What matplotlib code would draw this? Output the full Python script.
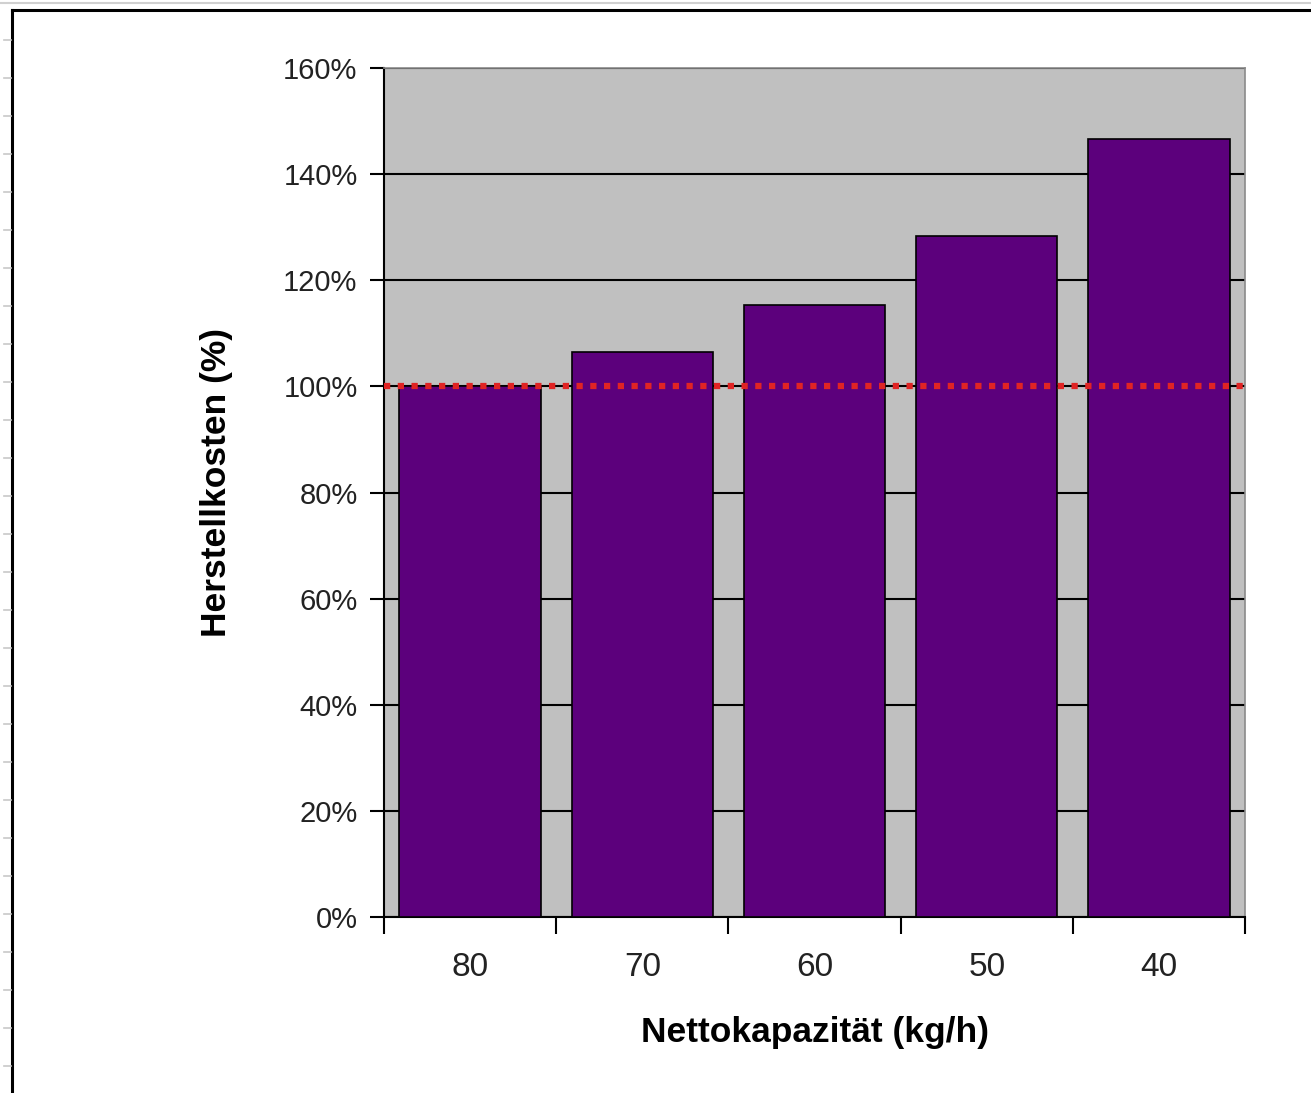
import matplotlib.pyplot as plt
from matplotlib.lines import Line2D
from matplotlib.ticker import FuncFormatter

plt.rcParams['font.family'] = ['Liberation Sans', 'DejaVu Sans']

# Nettokapazität (kg/h) und relative Herstellkosten (%)
kapazitaet = ["80", "70", "60", "50", "40"]
kosten = [100.0, 106.5, 115.3, 128.3, 146.6]
referenz = 100.0

fig = plt.figure(figsize=(13.11, 10.93), dpi=100)
ax = fig.add_axes([0.2929, 0.161, 0.6568, 0.7768])

ax.set_facecolor("#c0c0c0")
x = list(range(len(kapazitaet)))
ax.bar(x, kosten, width=0.82, color="#5c007c", edgecolor="black", linewidth=1.2, zorder=3)

# Basislinie 100 %
ax.axhline(referenz, color="#e02424", linewidth=4.5, linestyle=(0, (1, 1.2)), zorder=4)

ax.set_xlim(-0.5, len(kapazitaet) - 0.5)
ax.set_ylim(0, 160)
ax.set_yticks(range(0, 161, 20))
ax.yaxis.set_major_formatter(FuncFormatter(lambda v, p: f"{v:.0f}%"))
ax.grid(axis="y", color="black", linewidth=1.5, zorder=1)

ax.set_xticks([i - 0.5 for i in range(len(kapazitaet) + 1)])
ax.set_xticklabels([])
ax.set_xticks(x, minor=True)
ax.set_xticklabels(kapazitaet, minor=True)
ax.tick_params(axis="x", which="major", length=12, width=1.5, direction="out")
ax.tick_params(axis="x", which="minor", length=0, pad=25, labelsize=24, labelcolor="#222222")
ax.tick_params(axis="y", length=10, width=1.5, direction="out", pad=9, labelsize=21,
               labelcolor="#222222")

for s in ["top", "right"]:
    ax.spines[s].set_color("#8a8a8a")
    ax.spines[s].set_linewidth(1.2)
for s in ["left", "bottom"]:
    ax.spines[s].set_color("black")
    ax.spines[s].set_linewidth(1.5)

ax.set_xlabel("Nettokapazität (kg/h)", fontsize=25.5, fontweight="bold")
ax.set_ylabel("Herstellkosten (%)", fontsize=25.5, fontweight="bold")
ax.xaxis.set_label_coords(0.5, -0.116)
ax.yaxis.set_label_coords(-0.175, 0.512)

# Rahmen des Diagrammbereichs
W, H = 1311, 1093
fig.add_artist(Line2D([12 / W, 12 / W], [0, 1 - 10 / H], color="black", linewidth=2.2))
fig.add_artist(Line2D([12 / W, 1], [1 - 10 / H, 1 - 10 / H], color="black", linewidth=2.2))
fig.add_artist(Line2D([0, 1], [1 - 3 / H, 1 - 3 / H], color="#d0d0d0", linewidth=1.5))
for k in range(40, H, 38):
    yk = 1 - k / H
    fig.add_artist(Line2D([4 / W, 11 / W], [yk, yk], color="#c8c8c8", linewidth=1.2))

fig.savefig("out.png", dpi=100)
